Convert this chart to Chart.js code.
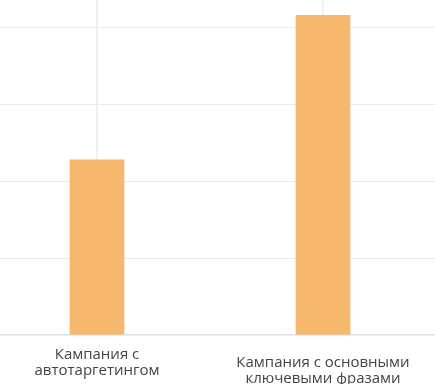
<!DOCTYPE html>
<html>
<head>
<meta charset="utf-8">
<script src="https://cdn.jsdelivr.net/npm/chart.js@4/dist/chart.umd.min.js"></script>
<style>
  html, body { margin: 0; padding: 0; background: #fff; }
  #frame { position: relative; width: 435px; height: 384px; overflow: hidden; }
  #wrap { position: absolute; left: -16px; top: 0; width: 452px; height: 407px; }
</style>
</head>
<body>
<div id="frame"><div id="wrap"><canvas id="grafico"></canvas></div></div>
<script>
// категории и значения
const categorias = [
  ['Кампания с', 'автотаргетингом'],
  ['', 'Кампания с основными', 'ключевыми фразами']
]
const valores = [2280, 4160]
const marcasY = [0, 1000, 2000, 3000, 4000]
const eixoMax = 4360

new Chart(document.getElementById('grafico'), {
  type: 'bar',
  data: {
    labels: categorias,
    datasets: [
      {
        data: valores,
        backgroundColor: '#F6B86C',
        borderWidth: 0,
        barThickness: 54
      }
    ]
  },
  options: {
    responsive: true,
    maintainAspectRatio: false,
    animation: false,
    layout: { padding: 0 },
    plugins: {
      legend: { display: false },
      tooltip: { enabled: false }
    },
    scales: {
      x: {
        offset: true,
        grid: {
          offset: false,
          color: '#ebebeb',
          lineWidth: 1.5,
          drawTicks: false
        },
        border: { color: '#e0e0e0', width: 1.5 },
        ticks: {
          padding: 12,
          crossAlign: 'center',
          maxRotation: 0,
          autoSkip: false,
          color: '#444',
          font: { family: 'Open Sans', size: 15, lineHeight: 1.07 }
        }
      },
      y: {
        min: 0,
        max: eixoMax,
        afterBuildTicks: s => {
          s.ticks = marcasY.map(v => ({ value: v }))
        },
        ticks: { display: false },
        grid: { color: '#ebebeb', lineWidth: 1, drawTicks: false },
        border: { display: false }
      }
    }
  }
})
</script>
</body>
</html>
